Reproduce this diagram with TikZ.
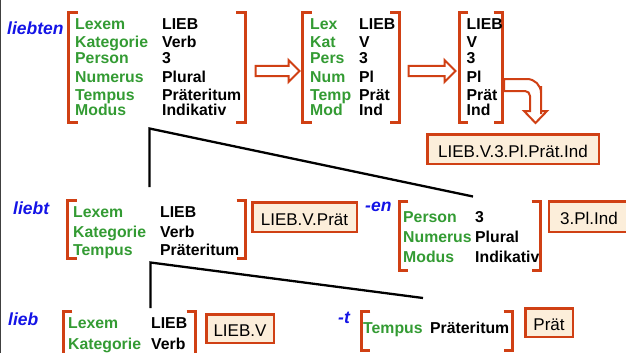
\documentclass[tikz,border=0pt]{standalone}
\usepackage{fontspec}
\setmainfont{Liberation Sans}
\usepackage{array}
\usetikzlibrary{shapes.arrows,fit}

\definecolor{brkred}{RGB}{208,64,20}
\definecolor{featgreen}{RGB}{51,155,51}
\definecolor{formblue}{RGB}{20,20,230}
\definecolor{glossfill}{RGB}{252,238,218}

\newcommand{\fsbrackets}[1]{%
  \draw[brk] ([xshift=9pt]#1.north west) -- (#1.north west) -- (#1.south west) -- ([xshift=9pt]#1.south west);
  \draw[brk] ([xshift=-9pt]#1.north east) -- (#1.north east) -- (#1.south east) -- ([xshift=-9pt]#1.south east);}

\tikzset{
  brk/.style={draw=brkred, line width=2.8pt},
  fsframe/.style={inner sep=0pt},
  fstext/.style={inner sep=0pt, anchor=base west, font=\fontsize{15.8}{17.5}\selectfont\bfseries},
  wordform/.style={inner sep=0pt, anchor=base west, text=formblue, font=\fontsize{17.5}{20}\selectfont\bfseries\itshape},
  glossbox/.style={draw=brkred, line width=2.5pt, fill=glossfill, inner sep=0pt, text height=16pt, text depth=0pt, font=\fontsize{17}{20}\selectfont},
  hollow/.style={single arrow, draw=brkred, fill=white, line width=2pt, inner xsep=0pt, inner ysep=4pt, single arrow head extend=6pt},
  branch/.style={draw=black, line width=2.3pt}
}

\begin{document}
\begin{tikzpicture}[x=1pt,y=-1pt]
\useasboundingbox (0,0) rectangle (626,353);
\draw[line width=1pt, black!75] (0.5,0) -- (0.5,353);

\coordinate (liebten-split) at (149.5,128.5);
\coordinate (liebt-top) at (149.5,187);
\coordinate (en-top) at (473,196.5);
\coordinate (liebt-split) at (150.5,262.5);
\coordinate (lieb-top) at (150.5,308);
\coordinate (t-top) at (423,298);
\draw[branch] (liebt-top) -- (liebten-split) -- (en-top);
\draw[branch] (lieb-top) -- (liebt-split) -- (t-top);

\node[fsframe, fit={(69,13) (245,122)}] (fsA) {};
\node[fsframe, fit={(303,13) (399,122)}] (fsB) {};
\node[fsframe, fit={(459.5,13) (502.5,122)}] (fsC) {};
\node[fsframe, fit={(68,200.5) (245.5,258.5)}] (fsD) {};
\node[fsframe, fit={(399.5,202) (540.5,270.5)}] (fsE) {};
\node[fsframe, fit={(63.5,311.5) (195.5,365)}] (fsF) {};
\node[fsframe, fit={(361.5,312) (512.5,350.5)}] (fsG) {};

\node[hollow, minimum height=44pt] (arAB) at (275,71) {};
\node[hollow, minimum height=47pt] (arBC) at (429.5,71) {};
\draw[brkred, fill=white, line width=2pt] (504,79) -- (520,79) [rounded corners=14pt] -- (541,79) -- (541,100) [sharp corners] -- (541,111) -- (547,111) -- (535.5,123) -- (524,111) -- (530,111) -- (530,100) [rounded corners=5pt] -- (530,91) -- (520,91) [sharp corners] -- (504,91) -- cycle;

\fsbrackets{fsA}
\fsbrackets{fsB}
\fsbrackets{fsC}
\fsbrackets{fsD}
\fsbrackets{fsE}
\fsbrackets{fsF}
\fsbrackets{fsG}

\node[wordform] (liebten) at (7,35) {liebten};
\node[wordform] (liebt) at (13,214) {liebt};
\node[wordform] (suffix-en) at (365,211.5) {-en};
\node[wordform] (lieb) at (8,325) {lieb};
\node[wordform] (suffix-t) at (338,323) {-t};

\node[fstext] (fsAtext) at (75,29.5) {\begin{tabular}[t]{@{}>{\color{featgreen}}w{l}{87pt}@{}l@{}}
Lexem & LIEB\\[1pt]
Kategorie & Verb\\[-1.5pt]
Person & 3\\[1.5pt]
Numerus & Plural\\
Tempus & Präteritum\\[-2.5pt]
Modus & Indikativ
\end{tabular}};
\node[fstext] (fsBtext) at (310,29.5) {\begin{tabular}[t]{@{}>{\color{featgreen}}w{l}{49pt}@{}l@{}}
Lex & LIEB\\[1pt]
Kat & V\\[-1.5pt]
Pers & 3\\[1.5pt]
Num & Pl\\
Temp & Prät\\[-2.5pt]
Mod & Ind
\end{tabular}};
\node[fstext] (fsCtext) at (466.5,29.5) {\begin{tabular}[t]{@{}l@{}}
LIEB\\[1pt]
V\\[-1.5pt]
3\\[1.5pt]
Pl\\
Prät\\[-2.5pt]
Ind
\end{tabular}};
\node[fstext] (fsDtext) at (73,217.3) {\begin{tabular}[t]{@{}>{\color{featgreen}}w{l}{87pt}@{}l@{}}
Lexem & LIEB\\[2.5pt]
Kategorie & Verb\\[1pt]
Tempus & Präteritum
\end{tabular}};
\node[fstext] (fsEtext) at (403,222.3) {\begin{tabular}[t]{@{}>{\color{featgreen}}w{l}{72pt}@{}l@{}}
Person & 3\\[2.5pt]
Numerus & Plural\\[2.5pt]
Modus & Indikativ
\end{tabular}};
\node[fstext] (fsFtext) at (68,328) {\begin{tabular}[t]{@{}>{\color{featgreen}}w{l}{83pt}@{}l@{}}
Lexem & LIEB\\[3.5pt]
Kategorie & Verb
\end{tabular}};
\node[fstext] (fsGtext) at (363,333) {\begin{tabular}[t]{@{}>{\color{featgreen}}w{l}{67pt}@{}l@{}}
Tempus & Präteritum
\end{tabular}};

\node[glossbox, minimum width=171.5pt, minimum height=29.5pt] (glA) at (513,149) {LIEB.V.3.Pl.Prät.Ind};
\node[glossbox, minimum width=104.5pt, minimum height=29.5pt] (glD) at (304.5,217) {LIEB.V.Prät};
\node[glossbox, minimum width=80pt, minimum height=30.5pt] (glE) at (589,216.5) {3.Pl.Ind};
\node[glossbox, minimum width=67.5pt, minimum height=28.5pt] (glF) at (240,328.5) {LIEB.V};
\node[glossbox, minimum width=47.5pt, minimum height=28.5pt] (glG) at (549,322.5) {Prät};
\end{tikzpicture}
\end{document}
